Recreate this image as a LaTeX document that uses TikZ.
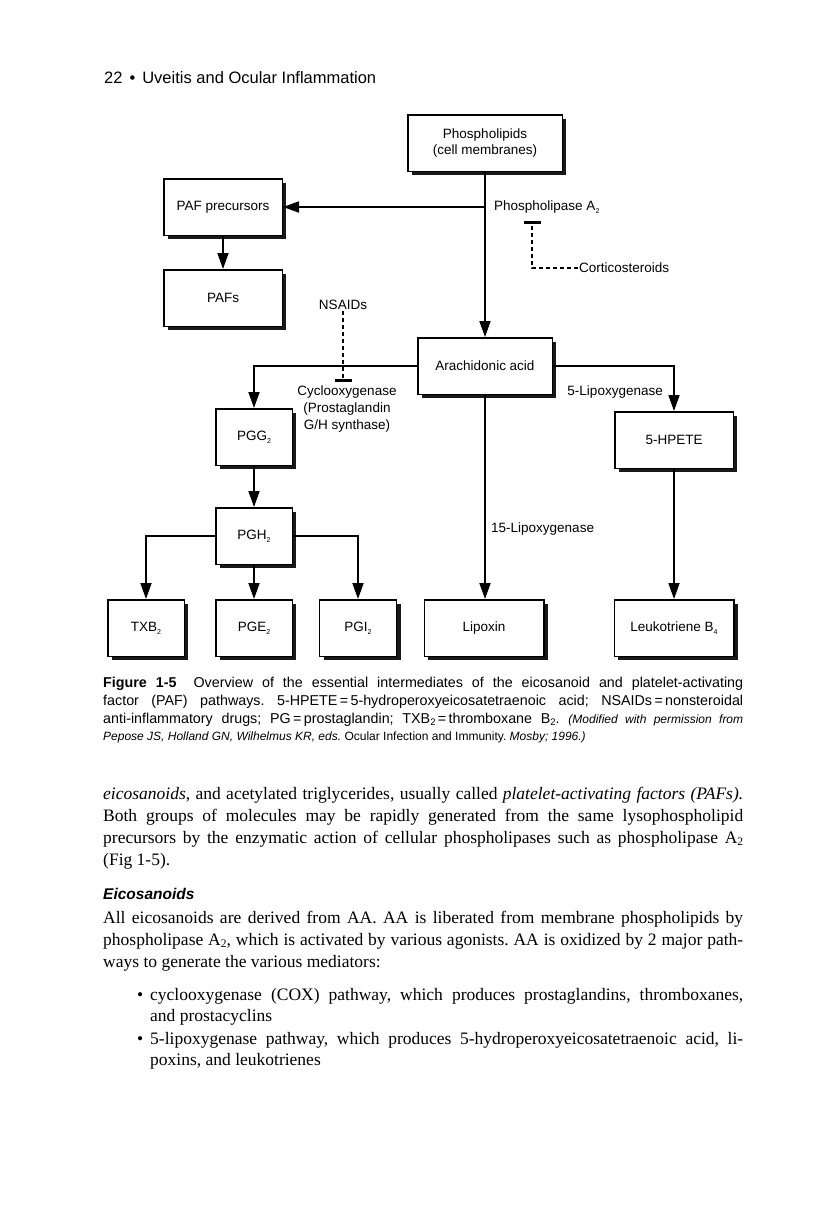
\documentclass[tikz,border=0pt]{standalone}
\usepackage{fontspec}
\setmainfont{Liberation Serif}
\newfontfamily\sff{Liberation Sans}
\usetikzlibrary{arrows.meta,shadows}
\newcommand\ssub[1]{\raisebox{-0.45ex}{\fontsize{7}{7}\selectfont #1}}
\newcommand\csub[1]{\raisebox{-0.35ex}{\fontsize{9.5}{9.5}\selectfont #1}}
\newcommand\bsub[1]{\raisebox{-0.35ex}{\fontsize{11.5}{11.5}\selectfont #1}}
\newcommand\jl[2][640pt]{\makebox[#1][s]{#2}}
\frenchspacing
\begin{document}
\begin{tikzpicture}[x=1pt,y=-1pt,
 box/.style={draw, line width=1.5pt, fill=white, inner sep=2pt, align=center,
   minimum height=56.5pt, font=\sff\fontsize{13.5}{16}\selectfont,
   drop shadow={shadow xshift=4pt, shadow yshift=-4pt, fill=black!90, opacity=1}},
 lbl/.style={inner sep=1pt, font=\sff\fontsize{13.5}{16}\selectfont},
 arr/.style={line width=1.8pt, -{Triangle[length=16pt,width=11pt]}},
 inh/.style={line width=2pt, dash pattern=on 4.5pt off 2.5pt, -{Bar[width=17pt,line width=2.6pt]}},
 bodyl/.style={anchor=base west, inner sep=0pt, font=\fontsize{17.5}{22}\selectfont},
 capl/.style={anchor=base west, inner sep=0pt, font=\sff\fontsize{14.3}{17}\selectfont},
]
\useasboundingbox[fill=white] (0,0) rectangle (836,1207);

% header
\node[anchor=base west, inner sep=0pt, font=\sff\fontsize{16.5}{19}\selectfont] (hdr) at (104,83) {22\hspace{7pt}•\hspace{7pt}Uveitis and Ocular Inflammation};

% boxes
\node[box, minimum width=154.5pt] (phospho) at (485,143) {Phospholipids\\(cell membranes)};
\node[box, minimum width=118.5pt] (pafpre) at (223,207) {PAF precursors};
\node[box, minimum width=118.5pt] (pafs) at (223,298) {PAFs};
\node[box, minimum width=134.5pt] (aa) at (485,366) {Arachidonic acid};
\node[box, minimum width=76.5pt] (pgg2) at (254,437) {PGG\ssub{2}};
\node[box, minimum width=118.5pt] (hpete) at (674,440) {5-HPETE};
\node[box, minimum width=76.5pt] (pgh2) at (254,536) {PGH\ssub{2}};
\node[box, minimum width=76.5pt] (txb2) at (146,628) {TXB\ssub{2}};
\node[box, minimum width=76.5pt] (pge2) at (254,628) {PGE\ssub{2}};
\node[box, minimum width=77pt] (pgi2) at (358,628) {PGI\ssub{2}};
\node[box, minimum width=119.5pt] (lipox) at (484,628) {Lipoxin};
\node[box, minimum width=119.5pt] (lt) at (674,628) {Leukotriene B\ssub{4}};

% connectors
\draw[arr] (phospho.south) -- (aa.north);
\draw[arr] (phospho.south |- pafpre.east) -- (pafpre.east);
\draw[arr] (pafpre) -- (pafs);
\draw[arr] (aa.west) -| (pgg2.north);
\draw[arr] (aa.east) -| (hpete.north);
\draw[arr] (aa.south) -- (aa.south |- lipox.north);
\draw[arr] (pgg2) -- (pgh2);
\draw[arr] (pgh2.west) -| (txb2.north);
\draw[arr] (pgh2) -- (pge2);
\draw[arr] (pgh2.east) -| (pgi2.north);
\draw[arr] (hpete) -- (lt);

% labels
\node[lbl, anchor=west] (pla) at (493,207) {Phospholipase A\ssub{2}};
\coordinate (plaT) at (532,221);
\node[lbl, anchor=west] (cort) at (578,268) {Corticosteroids};
\draw[inh] (cort.west) -| (plaT);
\node[lbl] (nsaids) at (343,305) {NSAIDs};
\coordinate (coxT) at (343,382);
\draw[inh] (nsaids.south) -- (coxT);
\node[lbl, align=center, font=\sff\fontsize{13.5}{17}\selectfont] (cox) at (347,409) {Cyclooxygenase\\(Prostaglandin\\G/H synthase)};
\node[lbl, anchor=east] (lox5) at (664,392) {5-Lipoxygenase};
\node[lbl, anchor=west] (lox15) at (490,529) {15-Lipoxygenase};

% caption
\node[capl] (cap1) at (103,687) {\jl{\textbf{Figure 1-5}\hspace{17pt}Overview of the essential intermediates of the eicosanoid and platelet-activating}};
\node[capl] (cap2) at (103,705) {\jl{factor (PAF) pathways. 5-HPETE\,=\,5-hydroperoxyeicosatetraenoic acid; NSAIDs\,=\,nonsteroidal}};
\node[capl] (cap3) at (103,723) {\jl{anti-inflammatory drugs; PG\,=\,prostaglandin; TXB\csub{2}\,=\,thromboxane B\csub{2}. {\fontsize{12}{14}\selectfont\itshape (Modified with permission from}}};
\node[capl, font=\sff\fontsize{12}{14}\selectfont] (cap4) at (103,740) {\itshape Pepose JS, Holland GN, Wilhelmus KR, eds. \upshape Ocular Infection and Immunity. \itshape Mosby; 1996.)};

% body text
\node[bodyl] (b1) at (103,799) {\jl{\textit{eicosanoids}, and acetylated triglycerides, usually called \textit{platelet-activating factors (PAFs).}}};
\node[bodyl] (b2) at (103,821) {\jl{Both groups of molecules may be rapidly generated from the same lysophospholipid}};
\node[bodyl] (b3) at (103,843) {\jl{precursors by the enzymatic action of cellular phospholipases such as phospholipase A\bsub{2}}};
\node[bodyl] (b4) at (103,865) {(Fig 1-5).};
\node[anchor=base west, inner sep=0pt, font=\sff\bfseries\itshape\fontsize{15.5}{18}\selectfont] (head) at (103,899) {Eicosanoids};
\node[bodyl] (b5) at (103,923) {\jl{All eicosanoids are derived from AA. AA is liberated from membrane phospholipids by}};
\node[bodyl] (b6) at (103,945) {\jl{phospholipase A\bsub{2}, which is activated by various agonists. AA is oxidized by 2 major path-}};
\node[bodyl] (b7) at (103,967) {ways to generate the various mediators:};
\node[bodyl] (bul1) at (137,1000) {•};
\node[bodyl] (b8) at (150,1000) {\jl[593pt]{cyclooxygenase (COX) pathway, which produces prostaglandins, thromboxanes,}};
\node[bodyl] (b9) at (150,1021) {and prostacyclins};
\node[bodyl] (bul2) at (137,1044) {•};
\node[bodyl] (b10) at (150,1044) {\jl[593pt]{5-lipoxygenase pathway, which produces 5-hydroperoxyeicosatetraenoic acid, li-}};
\node[bodyl] (b11) at (150,1065) {poxins, and leukotrienes};
\end{tikzpicture}
\end{document}
